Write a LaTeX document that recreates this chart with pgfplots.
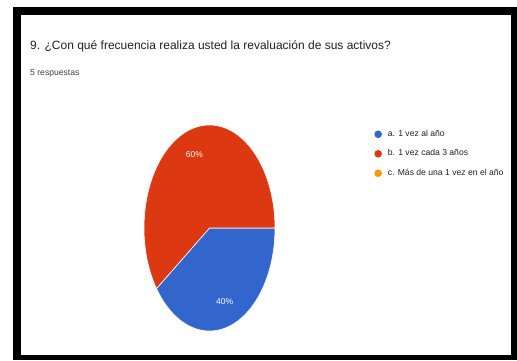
\documentclass[border=0pt]{standalone}
\usepackage{pgfplots}
\pgfplotsset{compat=1.18}
\usepackage{pgfplotstable}
\usepackage{fontspec}
\setmainfont{Liberation Sans}
\definecolor{gblue}{HTML}{3366CC}
\definecolor{gred}{HTML}{DC3912}
\definecolor{gorange}{HTML}{FF9900}
\definecolor{gtext}{HTML}{212121}

\pgfplotstableread{
idx value
0 2
1 3
2 0
}\piedata

\begin{document}
\begin{tikzpicture}[x=1pt,y=1pt]
\pgfplotstablegetelem{0}{value}\of\piedata \let\va\pgfplotsretval
\pgfplotstablegetelem{1}{value}\of\piedata \let\vb\pgfplotsretval
\pgfplotstablegetelem{2}{value}\of\piedata \let\vc\pgfplotsretval
\pgfmathsetmacro{\tot}{\va+\vb+\vc}
\pgfmathsetmacro{\aA}{-360*\va/\tot}
\pgfmathsetmacro{\aB}{\aA-360*\vb/\tot}
\pgfmathsetmacro{\mA}{\aA/2}
\pgfmathsetmacro{\mB}{(\aA+\aB)/2}
\pgfmathtruncatemacro{\pA}{round(100*\va/\tot)}
\pgfmathtruncatemacro{\pB}{round(100*\vb/\tot)}
\path[fill=white] (0pt,0pt) rectangle (517pt,360pt);
\fill[black] (13pt,0pt) rectangle (517pt,353pt);
\fill[white] (21pt,5pt) rectangle (511pt,345pt);
\node[anchor=base west, font=\fontsize{12}{14}\selectfont, text=gtext, inner sep=0] at (30pt,311pt) {9. ¿Con qué frecuencia realiza usted la revaluación de sus activos?};
\node[anchor=base west, font=\fontsize{8.6}{10}\selectfont, text=gtext!85, inner sep=0] at (30pt,285pt) {5 respuestas};
\begin{axis}[
  at={(144pt,29pt)}, anchor=south west,
  scale only axis, width=131pt, height=206pt,
  xmin=-1,xmax=1,ymin=-1,ymax=1,
  hide axis, clip=false,
  legend cell align=left,
  legend image code/.code={\path[#1, draw=none] (3.8pt,0pt) circle[radius=3.8pt];},
  legend style={draw=none, fill=none, at={(1.734,0.985)}, anchor=north west,
    font=\fontsize{8.6}{10}\selectfont, text=gtext, row sep=11.5pt, column sep=6pt,
    nodes={inner sep=0pt, text height=6pt, text depth=2pt}},
]
\addlegendimage{fill=gblue}
\addlegendentry{a. 1 vez al año}
\addlegendimage{fill=gred}
\addlegendentry{b. 1 vez cada 3 años}
\addlegendimage{fill=gorange}
\addlegendentry{c. Más de una 1 vez en el año}
\fill[gblue, draw=white, line width=0.6pt] (axis cs:0,0) -- (axis cs:1,0) arc[start angle=0,end angle=\aA,x radius=65.5pt,y radius=103pt] -- cycle;
\fill[gred, draw=white, line width=0.6pt] (axis cs:0,0) -- (axis cs:{cos(\aA)},{sin(\aA)}) arc[start angle=\aA,end angle=\aB,x radius=65.5pt,y radius=103pt] -- cycle;
\node[text=white, font=\fontsize{8.5}{10}\selectfont] at (axis cs:{0.75*cos(\mA)},{0.75*sin(\mA)}) {\pA\%};
\node[text=white, font=\fontsize{8.5}{10}\selectfont] at (axis cs:{0.75*cos(\mB)},{0.75*sin(\mB)}) {\pB\%};
\end{axis}
\end{tikzpicture}
\end{document}
